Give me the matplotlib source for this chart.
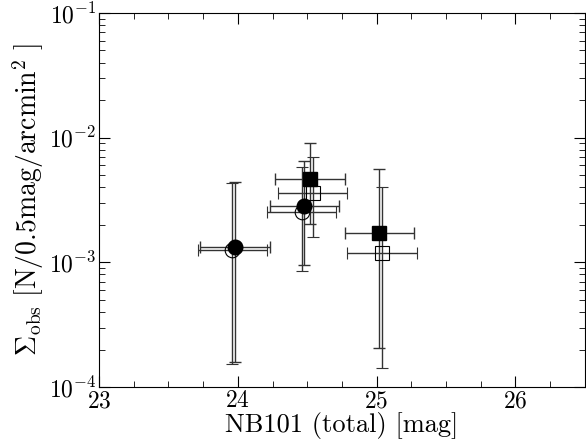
import numpy as np
import matplotlib
matplotlib.use("Agg")
import matplotlib.pyplot as plt

plt.rcParams["font.family"] = "serif"
plt.rcParams["font.serif"] = ["cmr10"]
plt.rcParams["mathtext.fontset"] = "cm"
plt.rcParams["axes.formatter.use_mathtext"] = True

# open circles
oc_x = [23.96, 24.46]
oc_y = [1.26e-3, 2.53e-3]
oc_xerr = [0.25, 0.25]
oc_ylo = [1.53e-4, 8.5e-4]
oc_yhi = [4.3e-3, 5.85e-3]

# filled circles
fc_x = [23.98, 24.48]
fc_y = [1.33e-3, 2.83e-3]
fc_xerr = [0.25, 0.25]
fc_ylo = [1.6e-4, 9.5e-4]
fc_yhi = [4.4e-3, 6.5e-3]

# open squares
os_x = [24.54, 25.04]
os_y = [3.58e-3, 1.18e-3]
os_xerr = [0.25, 0.25]
os_ylo = [1.6e-3, 1.43e-4]
os_yhi = [7.05e-3, 4.0e-3]

# filled squares
fs_x = [24.52, 25.02]
fs_y = [4.63e-3, 1.71e-3]
fs_xerr = [0.25, 0.25]
fs_ylo = [2.04e-3, 2.07e-4]
fs_yhi = [9.1e-3, 5.6e-3]


def yerr(y, lo, hi):
    y = np.array(y)
    return [y - np.array(lo), np.array(hi) - y]


fig = plt.figure(figsize=(5.86, 4.45), dpi=100)
ax = fig.add_axes([0.169, 0.130, 0.829, 0.841])

ekw = dict(ecolor="#333333", elinewidth=1.0, capsize=4, capthick=1.0, ls="none")
ax.errorbar(oc_x, oc_y, xerr=oc_xerr, yerr=yerr(oc_y, oc_ylo, oc_yhi),
            marker="o", ms=10.5, mfc="none", mec="black", mew=0.8, **ekw)
ax.errorbar(os_x, os_y, xerr=os_xerr, yerr=yerr(os_y, os_ylo, os_yhi),
            marker="s", ms=10, mfc="none", mec="black", mew=0.8, **ekw)
ax.errorbar(fc_x, fc_y, xerr=fc_xerr, yerr=yerr(fc_y, fc_ylo, fc_yhi),
            marker="o", ms=10.5, mfc="black", mec="black", **ekw)
ax.errorbar(fs_x, fs_y, xerr=fs_xerr, yerr=yerr(fs_y, fs_ylo, fs_yhi),
            marker="s", ms=10, mfc="black", mec="black", **ekw)

ax.set_yscale("log")
ax.set_xlim(23, 26.5)
ax.set_ylim(1e-4, 1e-1)
ax.set_xticks([23, 24, 25, 26])
ax.set_xticks(np.arange(23, 26.5, 0.25), minor=True)
ax.tick_params(which="both", direction="in", top=True, right=True, labelsize=17, pad=2)
ax.tick_params(which="major", length=8)
ax.tick_params(which="minor", length=4)
ax.set_xlabel("NB101 (total) [mag]", fontsize=19, labelpad=0)
ax.set_ylabel(r"$\Sigma_{\rm obs}\ [{\rm N/0.5mag/arcmin^2}\ ]$", fontsize=20, labelpad=2)

fig.savefig("out.png", dpi=100)
